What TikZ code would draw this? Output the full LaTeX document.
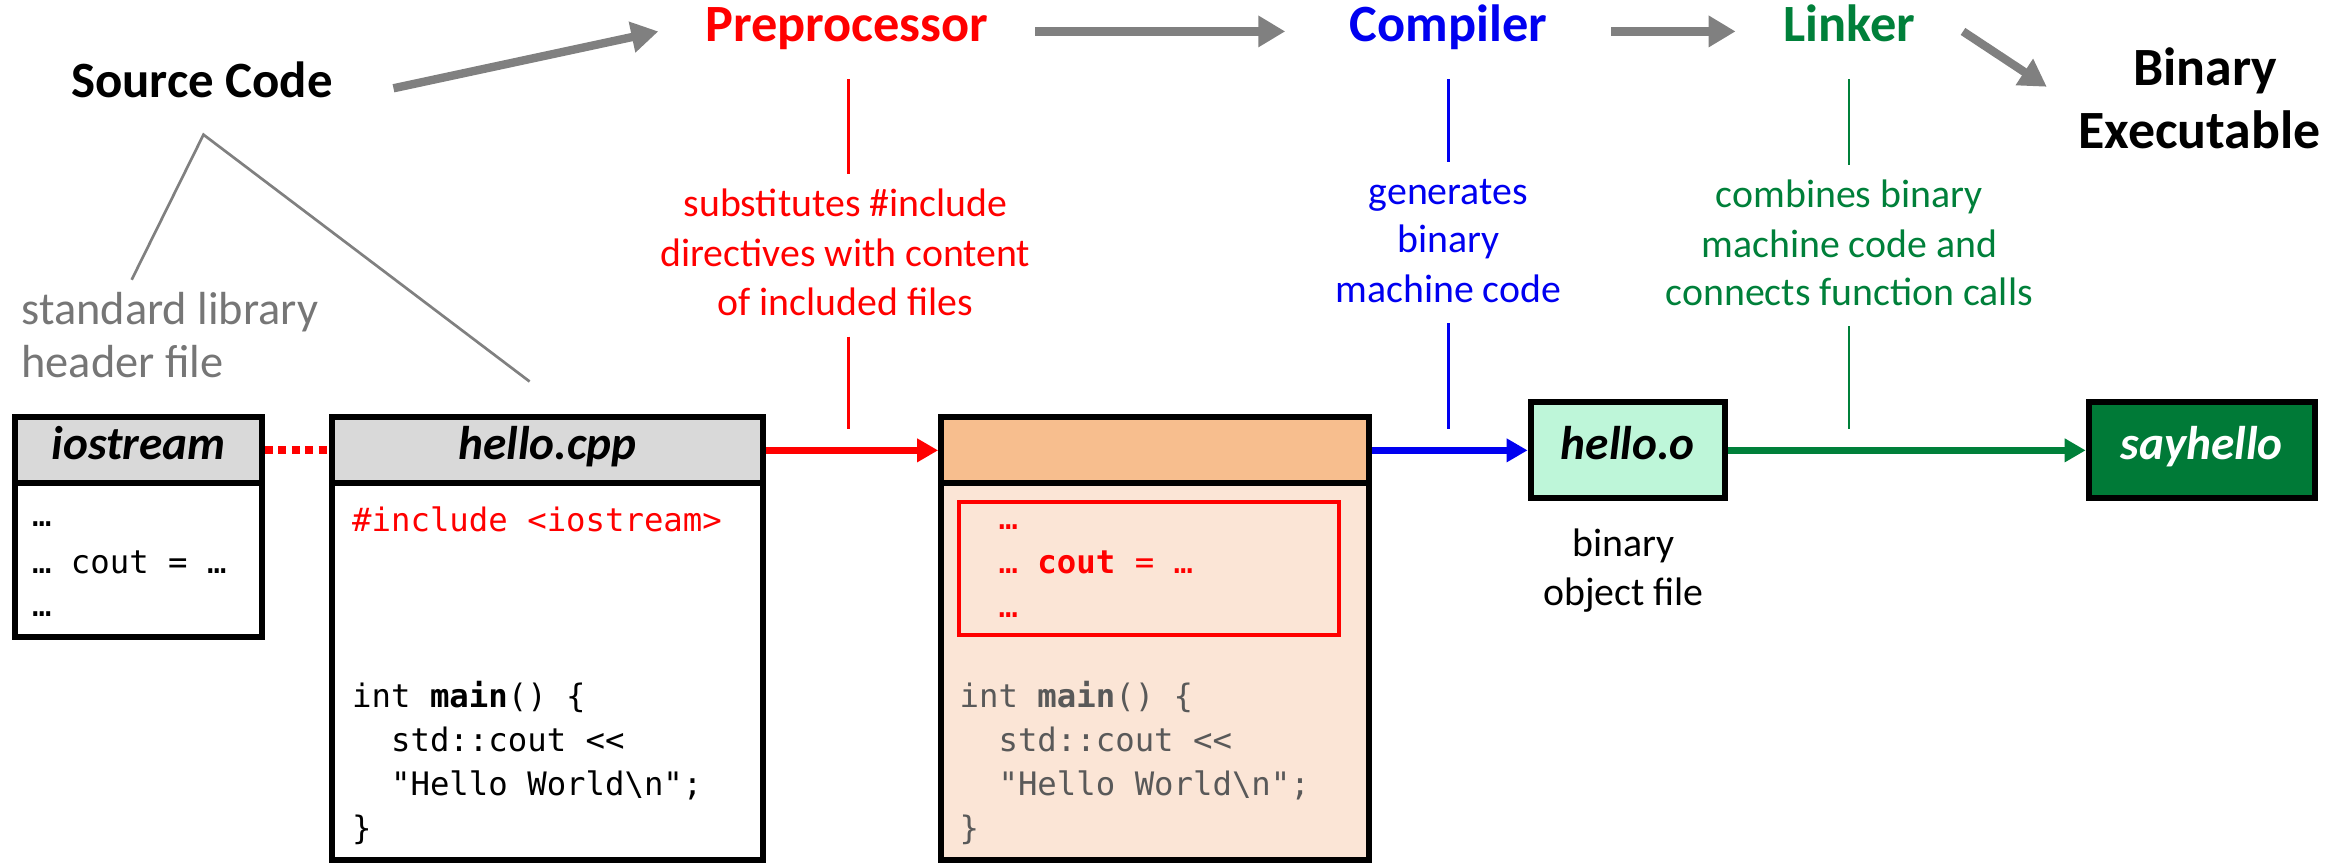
\documentclass[tikz,border=0pt]{standalone}
\usepackage{fontspec}
\setmainfont{Carlito}
\setmonofont{DejaVu Sans Mono}
\usetikzlibrary{arrows.meta,calc}

\definecolor{cred}{RGB}{255,0,0}
\definecolor{cblue}{RGB}{0,0,240}
\definecolor{cgreen}{RGB}{0,128,58}
\definecolor{cgray}{RGB}{128,128,128}
\definecolor{gtext}{RGB}{118,118,118}
\definecolor{hdrgray}{RGB}{217,217,217}
\definecolor{peachhd}{RGB}{247,190,142}
\definecolor{peachbd}{RGB}{251,229,214}
\definecolor{mint}{RGB}{190,246,217}
\definecolor{darkgreen}{RGB}{0,122,55}
\definecolor{codegray}{RGB}{89,89,89}

\begin{document}
\begin{tikzpicture}[x=0.5pt,y=-0.5pt,
  title/.style={font=\fontsize{17.5}{21}\selectfont\bfseries, inner sep=0, anchor=base},
  note/.style={font=\fontsize{13.3}{16}\selectfont, inner sep=0, anchor=base},
  hdr/.style={draw=black, line width=2pt, inner sep=0,
    font=\fontsize{15.8}{19}\selectfont\bfseries\itshape, text height=0.8em, text depth=0.2em},
  body/.style={draw=black, line width=2pt, inner sep=0},
  code/.style={font=\fontsize{10.8}{13}\selectfont\ttfamily, inner sep=0, anchor=base west},
  bigarrow/.style={draw=cgray, line width=2.8pt, -{Triangle[length=9pt,width=10pt]}},
  flow/.style={line width=2.2pt, -{Triangle[length=7pt,width=7.5pt]}},
  tick/.style={line width=0.8pt},
]
\useasboundingbox (0,0) rectangle (1568,579);

% ---- stage titles ----
\node[title, font=\fontsize{17}{21}\selectfont\bfseries] (src) at (135,65) {Source Code};
\node[title, text=cred] (pre) at (566,28) {Preprocessor};
\node[title, text=cblue] (comp) at (968,28) {Compiler};
\node[title, text=cgreen] (link) at (1236,28) {Linker};
\node[title, font=\fontsize{18}{21}\selectfont\bfseries] (binA) at (1474,57) {Binary};
\node[title, font=\fontsize{18}{21}\selectfont\bfseries] (binB) at (1470,99) {Executable};

% ---- pipeline arrows between the titles ----
\coordinate (a1s) at (263,59);   \coordinate (a1e) at (440,21);
\coordinate (a2s) at (692,21);   \coordinate (a2e) at (859,21);
\coordinate (a3s) at (1077,21);  \coordinate (a3e) at (1160,21);
\coordinate (a4s) at (1312,21);  \coordinate (a4e) at (1368,58);
\draw[bigarrow] (a1s) -- (a1e);
\draw[bigarrow] (a2s) -- (a2e);
\draw[bigarrow] (a3s) -- (a3e);
\draw[bigarrow] (a4s) -- (a4e);

% ---- stage descriptions ----
\node[note, text=cred] (prelabA) at (565,145) {substitutes \#include};
\node[note, text=cred] (prelabB) at (565,178) {directives with content};
\node[note, text=cred] (prelabC) at (565,211) {of included files};

\node[note, text=cblue] (complabA) at (968,137) {generates};
\node[note, text=cblue] (complabB) at (968,169) {binary};
\node[note, text=cblue] (complabC) at (968,202) {machine code};

\node[note, text=cgreen] (linklabA) at (1236,139) {combines binary};
\node[note, text=cgreen] (linklabB) at (1236,172) {machine code and};
\node[note, text=cgreen] (linklabC) at (1236,204) {connects function calls};

\node[font=\fontsize{15.5}{17.5}\selectfont, text=gtext, inner sep=0, anchor=base west] (stdA) at (14,217) {standard library};
\node[font=\fontsize{15.5}{17.5}\selectfont, text=gtext, inner sep=0, anchor=base west] (stdB) at (14,252) {header file};

\node[note] (objlabA) at (1085,372) {binary};
\node[note] (objlabB) at (1085,405) {object file};

% ---- thin marker lines ----
\coordinate (rT1) at (567,53);  \coordinate (rB1) at (567,116);
\coordinate (rT2) at (567,225); \coordinate (rB2) at (567,287);
\coordinate (bT1) at (968,53);  \coordinate (bB1) at (968,108);
\coordinate (bT2) at (968,216); \coordinate (bB2) at (968,287);
\coordinate (gT1) at (1236,53); \coordinate (gB1) at (1236,110);
\coordinate (gT2) at (1236,218); \coordinate (gB2) at (1236,287);
\draw[tick, cred] (rT1) -- (rB1);
\draw[tick, cred] (rT2) -- (rB2);
\draw[tick, cblue] (bT1) -- (bB1);
\draw[tick, cblue] (bT2) -- (bB2);
\draw[tick, cgreen] (gT1) -- (gB1);
\draw[tick, cgreen] (gT2) -- (gB2);

\coordinate (apex) at (136,90);
\coordinate (apexL) at (88,187);
\coordinate (apexR) at (354,255);
\draw[line width=0.9pt, cgray] (apexL) -- (apex) -- (apexR);

% ---- file boxes ----
\node[body, fill=white, minimum width=82.5pt, minimum height=51.5pt] (iobody) at (92.5,374.5) {};
\node[hdr, fill=hdrgray, minimum width=82.5pt, minimum height=22pt] (iohead) at (92.5,301) {iostream};

\node[body, fill=white, minimum width=144pt, minimum height=126pt] (cppbody) at (366,449) {};
\node[hdr, fill=hdrgray, minimum width=144pt, minimum height=22pt] (cpphead) at (366,301) {hello.cpp};

\node[body, fill=peachbd, minimum width=143pt, minimum height=126pt] (ppbody) at (772,449) {};
\node[hdr, fill=peachhd, minimum width=143pt, minimum height=22pt] (pphead) at (772,301) {};
\node[draw=cred, line width=1.3pt, inner sep=0, minimum width=127pt, minimum height=44.5pt] (incl) at (768,380) {};

\node[hdr, fill=mint, minimum width=65pt, minimum height=32pt] (obj) at (1088,301) {hello.o};
\node[hdr, fill=darkgreen, text=white, minimum width=75.5pt, minimum height=32pt] (exe) at (1471.5,301) {sayhello};

% ---- code ----
\node[code] (io1) at (21,352) {…};
\node[code] (io2) at (21,383) {… cout = …};
\node[code] (io3) at (21,412) {…};

\node[code, text=cred] (c1) at (235,355) {\#include <iostream>};
\node[code] (c2) at (235,473) {int \textbf{main}() \{};
\node[code] (c3) at (235,502) {\hphantom{xx}std::cout <<};
\node[code] (c4) at (235,532) {\hphantom{xx}"Hello World\textbackslash n";};
\node[code] (c5) at (235,561) {\}};

\node[code, text=cred] (p1) at (641,354) {\hphantom{xx}…};
\node[code, text=cred] (p2) at (641,383) {\hphantom{xx}… \textbf{cout} = …};
\node[code, text=cred] (p3) at (641,413) {\hphantom{xx}…};
\node[code, text=codegray] (p4) at (641,473) {int \textbf{main}() \{};
\node[code, text=codegray] (p5) at (641,502) {\hphantom{xx}std::cout <<};
\node[code, text=codegray] (p6) at (641,532) {\hphantom{xx}"Hello World\textbackslash n";};
\node[code, text=codegray] (p7) at (641,561) {\}};

% ---- connectors between files ----
\draw[cred, line width=2.7pt, dash pattern=on 2.7pt off 1.8pt] (iohead.east) -- (cpphead.west);
\draw[flow, cred] (cpphead.east) -- (pphead.west);
\draw[flow, cblue] (pphead.east) -- (obj.west);
\draw[flow, cgreen] (obj.east) -- (exe.west);
\end{tikzpicture}
\end{document}
